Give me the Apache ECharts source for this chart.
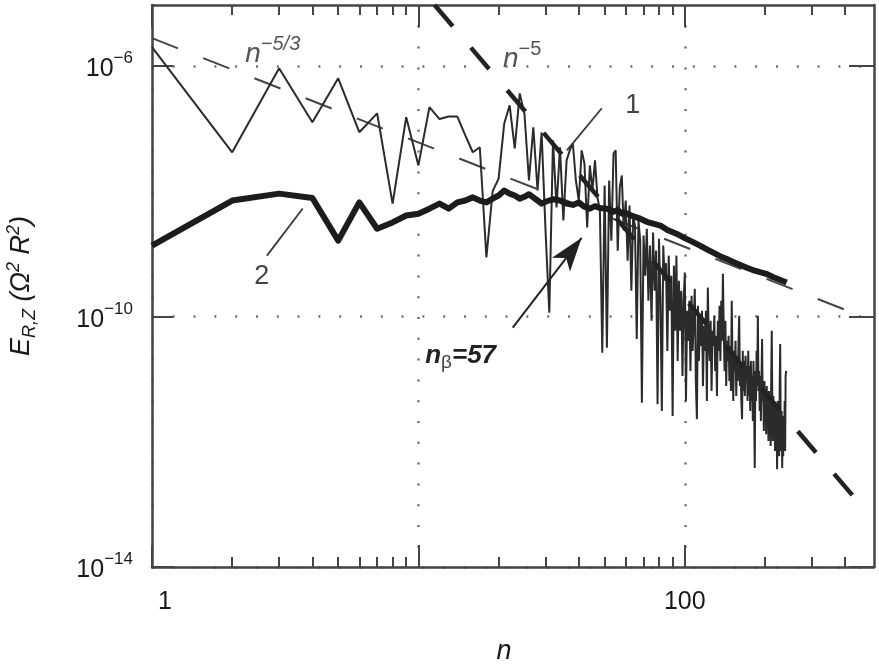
<!DOCTYPE html>
<html>
<head>
<meta charset="utf-8">
<title>E_RZ spectrum</title>
<script src="https://cdn.jsdelivr.net/npm/echarts@6/dist/echarts.min.js"></script>
<style>
  html, body { margin: 0; padding: 0; background: #fff; }
  #chart { width: 879px; height: 664px; }
</style>
</head>
<body>
<div id="chart"></div>
<script>
// curve 1: log10(E) for harmonics n = 1, 2, 3, ...
const thinLog10E = [
  -5.70, -7.38, -6.04, -6.90, -6.20, -7.06, -6.76, -8.20, -6.82, -7.59,
  -6.66, -6.85, -6.81, -6.81, -7.11, -7.38, -7.30, -9.06, -8.00, -7.80,
  -6.92, -6.63, -7.32, -6.44, -6.76, -7.83, -6.98, -7.99, -7.06, -8.63,
  -9.94, -7.19, -8.26, -7.30, -8.47, -7.51, -7.35, -7.24, -7.83, -8.15,
  -7.35, -7.56, -8.58, -7.59, -7.99, -7.51, -8.10, -8.31, -10.58, -7.91,
  -10.50, -7.83, -8.79, -7.40, -7.35, -8.95, -7.94, -7.75, -8.63, -8.15,
  -9.11, -8.23, -9.59, -8.39, -8.55, -10.36, -8.47, -8.79, -11.38, -8.71,
  -9.35, -8.60, -9.75, -8.87, -10.07, -8.66, -9.59, -8.95, -11.40, -8.76,
  -9.75, -11.51, -8.87, -9.43, -9.15, -10.55, -9.03, -9.91, -9.35, -11.59,
  -9.19, -10.23, -9.03, -10.71, -9.43, -10.23, -9.59, -10.95, -9.75, -9.30,
  -11.35, -9.91, -10.39, -9.75, -10.87, -9.67, -10.55, -10.07, -9.56, -11.03,
  -11.64, -9.83, -10.71, -9.99, -10.47, -9.91, -11.11, -10.15, -10.55, -9.91,
  -11.35, -9.54, -10.39, -10.71, -10.07, -11.19, -10.23, -10.47, -9.99, -10.87,
  -10.31, -11.27, -10.07, -10.55, -9.83, -10.71, -9.75, -10.39, -9.32, -10.23,
  -10.87, -10.07, -11.11, -10.39, -10.71, -10.31, -11.03, -10.47, -11.19, -9.75,
  -10.71, -11.35, -10.55, -10.87, -10.39, -11.27, -10.63, -11.03, -10.47, -9.99,
  -11.11, -10.79, -11.35, -11.64, -10.55, -11.19, -10.71, -11.27, -10.63, -11.03,
  -10.79, -11.35, -10.55, -11.27, -10.79, -11.51, -10.71, -11.35, -10.95, -11.67,
  -10.71, -11.43, -12.42, -10.87, -11.35, -10.55, -11.11, -9.99, -11.19, -10.87,
  -11.51, -10.95, -11.67, -11.03, -10.36, -11.35, -11.11, -11.83, -11.03, -11.59,
  -11.19, -11.88, -11.11, -11.67, -11.27, -11.99, -11.19, -11.75, -11.35, -12.07,
  -11.03, -10.23, -11.43, -11.99, -11.27, -11.83, -11.35, -12.15, -11.43, -11.99,
  -11.51, -12.44, -11.35, -12.07, -11.59, -12.23, -11.19, -10.44, -11.67, -12.15,
  -11.51, -12.42, -11.67, -12.23, -11.59, -11.99, -11.35, -12.15, -10.95, -10.87
];

// curve 2
const thickN = [
  1, 2, 3, 4, 5, 6, 7, 8, 9, 10, 11, 12, 13, 14, 15, 16, 17, 18, 19, 20,
  21, 22, 23, 24, 25, 26, 27, 28, 29, 30, 32, 34, 36, 38, 40, 42, 44, 46, 48, 51,
  54, 56, 58, 60, 62, 65, 68, 72, 76, 81, 86, 93, 100, 107, 114, 121, 129, 137, 145, 152,
  160, 170, 180, 190, 202, 214, 226, 241
];
const thickLog10E = [
  -8.87, -8.15, -8.04, -8.11, -8.79, -8.18, -8.60, -8.50, -8.39, -8.36, -8.28, -8.20, -8.28, -8.18, -8.15, -8.10, -8.15, -8.18, -8.12, -8.07,
  -7.99, -8.04, -8.07, -8.12, -8.09, -8.05, -8.10, -8.15, -8.20, -8.17, -8.13, -8.15, -8.20, -8.22, -8.18, -8.25, -8.28, -8.24, -8.27, -8.28,
  -8.33, -8.30, -8.36, -8.35, -8.38, -8.41, -8.44, -8.49, -8.52, -8.55, -8.62, -8.68, -8.75, -8.81, -8.87, -8.93, -8.99, -9.05, -9.09, -9.13,
  -9.17, -9.22, -9.26, -9.29, -9.32, -9.37, -9.41, -9.46
];

// power-law guides, end points [n, E]
const guideN53 = [[1, 2.77e-6], [428, 1.14e-10]];
const guideN5 = [[11.5, 9.35e-6], [455, 1.0e-13]];

// axis ticks
const xMajorTicks = [1, 10, 100];
const xMinorTicks = [2, 3, 4, 5, 6, 7, 8, 9, 20, 30, 40, 50, 60, 70, 80, 90, 200, 300, 400];
const xLabelValues = [1, 100];
const yTicks = [1e-14, 1e-10, 1e-6];

// annotation anchors [n, E]
const leader1 = [[36.1, 4.48e-8], [48.8, 2.1e-7]];
const leader2 = [[2.70, 9.35e-10], [3.68, 5.28e-9]];
const arrowNb = [[22.6, 6.6e-11], [41, 1.8e-9]];
const textAnchors = {
  slope53: [2.84, 1.72e-6],
  slope5: [24.5, 1.43e-6],
  one: [63.8, 2.35e-7],
  two: [2.58, 4.3e-10],
  nbeta: [14.4, 2.2e-11]
};

const FONT = '"Liberation Sans", Arial, sans-serif';
const X_MIN = 1, X_MAX = 513;
const Y_MIN = 1e-14, Y_MAX = 9.35e-6;
const FRAME = '#454545';

const thinData = thinLog10E.map((e, i) => [i + 1, Math.pow(10, e)]);
const thickData = thickN.map((n, i) => [n, Math.pow(10, thickLog10E[i])]);

const dotted = { color: '#707070', width: 2.5, type: [2, 18.8] };

function xAxis(position, ticks, len, opts) {
  return Object.assign({
    type: 'log', logBase: 10, position, min: X_MIN, max: X_MAX,
    axisLine: { show: false },
    axisTick: { show: true, inside: true, length: len, customValues: ticks, lineStyle: { color: FRAME, width: 2 } },
    axisLabel: { show: false },
    splitLine: { show: false },
    minorTick: { show: false }, minorSplitLine: { show: false }
  }, opts || {});
}

const chart = echarts.init(document.getElementById('chart'));

const option = {
  animation: false,
  backgroundColor: '#fff',
  grid: { left: 152, right: 5, top: 5, bottom: 97, containLabel: false, outerBoundsMode: 'none' },
  xAxis: [
    xAxis('bottom', xMajorTicks, 22, {
      axisLine: { show: true, lineStyle: { color: FRAME, width: 2.5 } },
      axisLabel: {
        show: true, customValues: xLabelValues, margin: 23,
        color: '#1a1a1a', fontFamily: FONT, fontSize: 25,
        formatter: v => (v === 1 ? '{one|1}' : String(Math.round(v))),
        rich: { one: { fontFamily: FONT, fontSize: 25, color: '#1a1a1a', padding: [0, 0, 0, 26] } }
      },
      splitLine: { show: true, lineStyle: dotted },
      name: 'n', nameLocation: 'middle', nameGap: 71,
      nameTextStyle: { fontFamily: FONT, fontSize: 27, fontStyle: 'italic', color: '#1a1a1a', padding: [0, 18, 0, 0] }
    }),
    xAxis('bottom', xMinorTicks, 10),
    xAxis('top', xMajorTicks, 22, {
      axisLine: { show: true, lineStyle: { color: FRAME, width: 2.5 } }
    }),
    xAxis('top', xMinorTicks, 10)
  ],
  yAxis: [
    {
      type: 'log', logBase: 10, position: 'left', min: Y_MIN, max: Y_MAX,
      axisLine: { show: true, lineStyle: { color: FRAME, width: 2.5 } },
      axisTick: { show: true, inside: true, length: 21, customValues: yTicks, lineStyle: { color: FRAME, width: 2 } },
      axisLabel: {
        show: true, customValues: yTicks, margin: 19,
        formatter: v => '{b|10}{s|\u2212' + Math.round(-Math.log10(v)) + '}',
        rich: {
          b: { fontFamily: FONT, fontSize: 25, color: '#1a1a1a', lineHeight: 32, verticalAlign: 'bottom' },
          s: { fontFamily: FONT, fontSize: 17, color: '#1a1a1a', lineHeight: 17, verticalAlign: 'top' }
        }
      },
      splitLine: { show: true, lineStyle: dotted },
      minorTick: { show: false },
      name: '{e|E}{sub|R,Z}{t| (\u03A9}{sup|2}{t| R}{sup|2}{t|)}',
      nameLocation: 'middle', nameGap: 111, nameRotate: 90,
      nameTextStyle: {
        rich: {
          e: { fontFamily: FONT, fontSize: 27, fontStyle: 'italic', color: '#1a1a1a', lineHeight: 40, verticalAlign: 'middle' },
          sub: { fontFamily: FONT, fontSize: 18, fontStyle: 'italic', color: '#1a1a1a', lineHeight: 18, verticalAlign: 'bottom', padding: [0, 0, 2, 0] },
          t: { fontFamily: FONT, fontSize: 27, fontStyle: 'italic', color: '#1a1a1a', lineHeight: 40, verticalAlign: 'middle' },
          sup: { fontFamily: FONT, fontSize: 18, fontStyle: 'italic', color: '#1a1a1a', lineHeight: 18, verticalAlign: 'top', padding: [4, 0, 0, 0] }
        }
      }
    },
    {
      type: 'log', logBase: 10, position: 'right', min: Y_MIN, max: Y_MAX,
      axisLine: { show: true, lineStyle: { color: FRAME, width: 2.5 } },
      axisTick: { show: true, inside: true, length: 25, customValues: yTicks, lineStyle: { color: FRAME, width: 2 } },
      axisLabel: { show: false },
      splitLine: { show: false },
      minorTick: { show: false }
    }
  ],
  series: [
    {
      name: 'guide n^-5/3', type: 'line', data: guideN53, showSymbol: false, silent: true,
      lineStyle: { color: '#454545', width: 2, type: [28, 27] }, z: 3
    },
    {
      name: 'curve 1', type: 'line', data: thinData, showSymbol: false, silent: true,
      lineStyle: { color: '#2b2b2b', width: 2 }, z: 4
    },
    {
      name: 'guide n^-5', type: 'line', data: guideN5, showSymbol: false, silent: true,
      lineStyle: { color: '#222', width: 4.5, type: [28, 28] }, z: 5
    },
    {
      name: 'curve 2', type: 'line', data: thickData, showSymbol: false, silent: true,
      lineStyle: { color: '#1c1c1c', width: 6, join: 'round' }, z: 6,
      markLine: {
        silent: true, animation: false, symbol: ['none', 'none'],
        label: { show: false },
        lineStyle: { type: 'solid', color: '#3a3a3a', width: 1.8 },
        data: [
          [{ coord: leader1[0] }, { coord: leader1[1] }],
          [{ coord: leader2[0] }, { coord: leader2[1] }],
          [
            { coord: arrowNb[0], lineStyle: { color: '#222', width: 2 } },
            { coord: arrowNb[1], symbol: 'arrow', symbolSize: [17, 34], itemStyle: { color: '#222' } }
          ]
        ]
      },
      markPoint: {
        silent: true, animation: false, symbol: 'circle', symbolSize: 1,
        itemStyle: { color: 'rgba(0,0,0,0)' },
        data: [
          {
            coord: textAnchors.slope53,
            label: {
              show: true, position: 'inside', formatter: '{n|n}{p|\u22125/3}',
              rich: {
                n: { fontFamily: FONT, fontSize: 28, fontStyle: 'italic', color: '#555', lineHeight: 34, verticalAlign: 'bottom' },
                p: { fontFamily: FONT, fontSize: 20, fontStyle: 'italic', color: '#555', lineHeight: 20, verticalAlign: 'top' }
              }
            }
          },
          {
            coord: textAnchors.slope5,
            label: {
              show: true, position: 'inside', formatter: '{n|n}{p|\u22125}',
              rich: {
                n: { fontFamily: FONT, fontSize: 28, fontStyle: 'italic', color: '#555', lineHeight: 34, verticalAlign: 'bottom' },
                p: { fontFamily: FONT, fontSize: 20, color: '#555', lineHeight: 20, verticalAlign: 'top' }
              }
            }
          },
          {
            coord: textAnchors.one,
            label: { show: true, position: 'inside', formatter: '1', fontFamily: FONT, fontSize: 27, color: '#444' }
          },
          {
            coord: textAnchors.two,
            label: { show: true, position: 'inside', formatter: '2', fontFamily: FONT, fontSize: 27, color: '#444' }
          },
          {
            coord: textAnchors.nbeta,
            label: {
              show: true, position: 'inside', formatter: '{n|n}{b|\u03B2}{v|=57}',
              rich: {
                n: { fontFamily: FONT, fontSize: 26, fontStyle: 'italic', fontWeight: 'bold', color: '#222', lineHeight: 30, verticalAlign: 'top' },
                b: { fontFamily: FONT, fontSize: 19, color: '#444', lineHeight: 19, verticalAlign: 'bottom' },
                v: { fontFamily: FONT, fontSize: 26, fontStyle: 'italic', fontWeight: 'bold', color: '#222', lineHeight: 30, verticalAlign: 'top' }
              }
            }
          }
        ]
      }
    }
  ]
};

chart.setOption(option);
</script>
</body>
</html>
